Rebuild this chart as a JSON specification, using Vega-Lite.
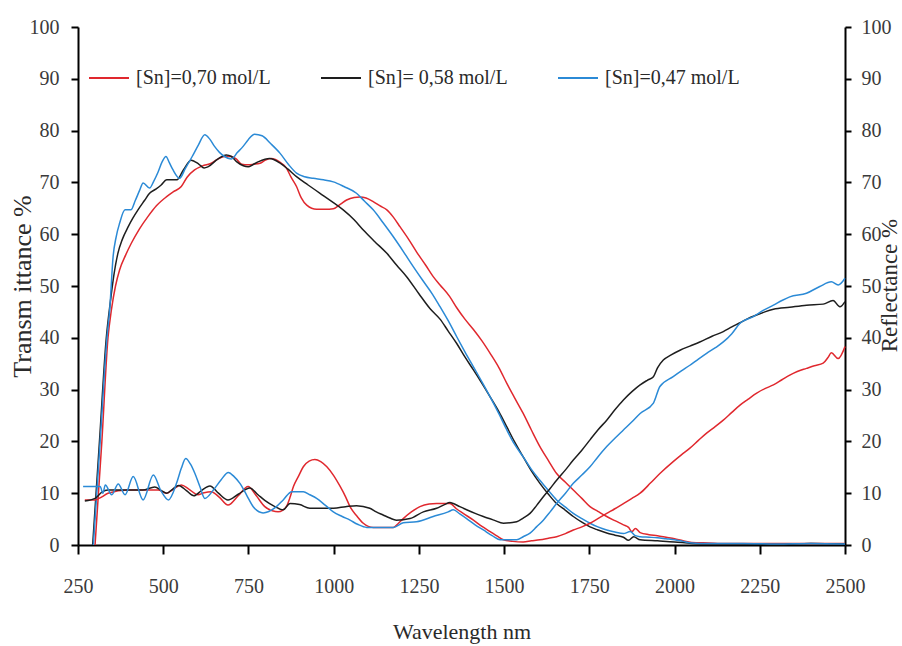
{
  "$schema": "https://vega.github.io/schema/vega-lite/v6.json",
  "width": 767,
  "height": 518,
  "autosize": {"type": "none"},
  "padding": {"left": 78, "top": 27, "right": 57, "bottom": 101},
  "background": "white",
  "config": {
    "view": {"stroke": null},
    "axis": {
      "grid": false,
      "domainColor": "#000",
      "domainWidth": 2,
      "tickColor": "#000",
      "tickWidth": 2,
      "labelFont": "Liberation Serif",
      "labelFontSize": 20,
      "labelColor": "#3a3a3a",
      "titleFont": "Liberation Serif",
      "titleFontSize": 22,
      "titleFontWeight": "normal",
      "titleColor": "#2a2a2a"
    },
    "legend": {
      "orient": "none",
      "legendX": 10,
      "legendY": 30,
      "direction": "horizontal",
      "symbolType": "stroke",
      "symbolSize": 1600,
      "symbolStrokeWidth": 2,
      "labelFont": "Liberation Serif",
      "labelFontSize": 20,
      "labelColor": "#2a2a2a",
      "labelOffset": 6,
      "columnPadding": 46
    }
  },
  "datasets": {
    "trans": [
      {"w":300,"v":0,"c":"[Sn]=0,70 mol/L"},{"w":320,"v":20,"c":"[Sn]=0,70 mol/L"},{"w":338,"v":40,"c":"[Sn]=0,70 mol/L"},{"w":348,"v":45.4,"c":"[Sn]=0,70 mol/L"},{"w":360,"v":50,"c":"[Sn]=0,70 mol/L"},{"w":372,"v":53.1,"c":"[Sn]=0,70 mol/L"},{"w":390,"v":56,"c":"[Sn]=0,70 mol/L"},{"w":406,"v":58.2,"c":"[Sn]=0,70 mol/L"},{"w":430,"v":61,"c":"[Sn]=0,70 mol/L"},{"w":455,"v":63.4,"c":"[Sn]=0,70 mol/L"},{"w":480,"v":65.5,"c":"[Sn]=0,70 mol/L"},{"w":509,"v":67.2,"c":"[Sn]=0,70 mol/L"},{"w":530,"v":68.2,"c":"[Sn]=0,70 mol/L"},{"w":553,"v":69.2,"c":"[Sn]=0,70 mol/L"},{"w":570,"v":71,"c":"[Sn]=0,70 mol/L"},{"w":592,"v":72.4,"c":"[Sn]=0,70 mol/L"},{"w":615,"v":73.2,"c":"[Sn]=0,70 mol/L"},{"w":641,"v":73.7,"c":"[Sn]=0,70 mol/L"},{"w":660,"v":74.5,"c":"[Sn]=0,70 mol/L"},{"w":680,"v":75,"c":"[Sn]=0,70 mol/L"},{"w":700,"v":75,"c":"[Sn]=0,70 mol/L"},{"w":715,"v":74.5,"c":"[Sn]=0,70 mol/L"},{"w":730,"v":73.5,"c":"[Sn]=0,70 mol/L"},{"w":749,"v":73.4,"c":"[Sn]=0,70 mol/L"},{"w":765,"v":73.5,"c":"[Sn]=0,70 mol/L"},{"w":784,"v":73.7,"c":"[Sn]=0,70 mol/L"},{"w":800,"v":74.3,"c":"[Sn]=0,70 mol/L"},{"w":817,"v":74.6,"c":"[Sn]=0,70 mol/L"},{"w":840,"v":74,"c":"[Sn]=0,70 mol/L"},{"w":862,"v":72.7,"c":"[Sn]=0,70 mol/L"},{"w":875,"v":71,"c":"[Sn]=0,70 mol/L"},{"w":891,"v":69.2,"c":"[Sn]=0,70 mol/L"},{"w":905,"v":67,"c":"[Sn]=0,70 mol/L"},{"w":921,"v":65.6,"c":"[Sn]=0,70 mol/L"},{"w":950,"v":64.8,"c":"[Sn]=0,70 mol/L"},{"w":975,"v":64.8,"c":"[Sn]=0,70 mol/L"},{"w":999,"v":64.9,"c":"[Sn]=0,70 mol/L"},{"w":1020,"v":65.8,"c":"[Sn]=0,70 mol/L"},{"w":1038,"v":66.6,"c":"[Sn]=0,70 mol/L"},{"w":1060,"v":67.1,"c":"[Sn]=0,70 mol/L"},{"w":1077,"v":67.2,"c":"[Sn]=0,70 mol/L"},{"w":1095,"v":67,"c":"[Sn]=0,70 mol/L"},{"w":1116,"v":66.3,"c":"[Sn]=0,70 mol/L"},{"w":1135,"v":65.5,"c":"[Sn]=0,70 mol/L"},{"w":1156,"v":64.7,"c":"[Sn]=0,70 mol/L"},{"w":1175,"v":63.3,"c":"[Sn]=0,70 mol/L"},{"w":1195,"v":61.4,"c":"[Sn]=0,70 mol/L"},{"w":1220,"v":59,"c":"[Sn]=0,70 mol/L"},{"w":1243,"v":56.6,"c":"[Sn]=0,70 mol/L"},{"w":1270,"v":54,"c":"[Sn]=0,70 mol/L"},{"w":1292,"v":51.8,"c":"[Sn]=0,70 mol/L"},{"w":1312,"v":50.2,"c":"[Sn]=0,70 mol/L"},{"w":1340,"v":48,"c":"[Sn]=0,70 mol/L"},{"w":1361,"v":45.8,"c":"[Sn]=0,70 mol/L"},{"w":1385,"v":43.6,"c":"[Sn]=0,70 mol/L"},{"w":1410,"v":41.6,"c":"[Sn]=0,70 mol/L"},{"w":1435,"v":39.4,"c":"[Sn]=0,70 mol/L"},{"w":1459,"v":37,"c":"[Sn]=0,70 mol/L"},{"w":1485,"v":34.2,"c":"[Sn]=0,70 mol/L"},{"w":1508,"v":31.2,"c":"[Sn]=0,70 mol/L"},{"w":1530,"v":28.5,"c":"[Sn]=0,70 mol/L"},{"w":1556,"v":25.4,"c":"[Sn]=0,70 mol/L"},{"w":1580,"v":22.2,"c":"[Sn]=0,70 mol/L"},{"w":1605,"v":19,"c":"[Sn]=0,70 mol/L"},{"w":1630,"v":16.3,"c":"[Sn]=0,70 mol/L"},{"w":1654,"v":13.8,"c":"[Sn]=0,70 mol/L"},{"w":1680,"v":12.1,"c":"[Sn]=0,70 mol/L"},{"w":1703,"v":10.6,"c":"[Sn]=0,70 mol/L"},{"w":1728,"v":9,"c":"[Sn]=0,70 mol/L"},{"w":1752,"v":7.4,"c":"[Sn]=0,70 mol/L"},{"w":1775,"v":6.5,"c":"[Sn]=0,70 mol/L"},{"w":1801,"v":5.5,"c":"[Sn]=0,70 mol/L"},{"w":1825,"v":4.7,"c":"[Sn]=0,70 mol/L"},{"w":1850,"v":3.9,"c":"[Sn]=0,70 mol/L"},{"w":1865,"v":3.4,"c":"[Sn]=0,70 mol/L"},{"w":1875,"v":2.6,"c":"[Sn]=0,70 mol/L"},{"w":1885,"v":3.2,"c":"[Sn]=0,70 mol/L"},{"w":1899,"v":2.4,"c":"[Sn]=0,70 mol/L"},{"w":1925,"v":2,"c":"[Sn]=0,70 mol/L"},{"w":1950,"v":1.8,"c":"[Sn]=0,70 mol/L"},{"w":1975,"v":1.5,"c":"[Sn]=0,70 mol/L"},{"w":2000,"v":1.2,"c":"[Sn]=0,70 mol/L"},{"w":2025,"v":0.8,"c":"[Sn]=0,70 mol/L"},{"w":2050,"v":0.5,"c":"[Sn]=0,70 mol/L"},{"w":2100,"v":0.4,"c":"[Sn]=0,70 mol/L"},{"w":2150,"v":0.3,"c":"[Sn]=0,70 mol/L"},{"w":2200,"v":0.3,"c":"[Sn]=0,70 mol/L"},{"w":2300,"v":0.3,"c":"[Sn]=0,70 mol/L"},{"w":2400,"v":0.3,"c":"[Sn]=0,70 mol/L"},{"w":2500,"v":0.3,"c":"[Sn]=0,70 mol/L"},

      {"w":293,"v":0,"c":"[Sn]= 0,58 mol/L"},{"w":313,"v":20,"c":"[Sn]= 0,58 mol/L"},{"w":333,"v":40,"c":"[Sn]= 0,58 mol/L"},{"w":345,"v":47,"c":"[Sn]= 0,58 mol/L"},{"w":355,"v":52,"c":"[Sn]= 0,58 mol/L"},{"w":367,"v":56.3,"c":"[Sn]= 0,58 mol/L"},{"w":380,"v":59,"c":"[Sn]= 0,58 mol/L"},{"w":397,"v":61.4,"c":"[Sn]= 0,58 mol/L"},{"w":410,"v":63,"c":"[Sn]= 0,58 mol/L"},{"w":426,"v":64.7,"c":"[Sn]= 0,58 mol/L"},{"w":445,"v":66.5,"c":"[Sn]= 0,58 mol/L"},{"w":460,"v":67.9,"c":"[Sn]= 0,58 mol/L"},{"w":478,"v":68.7,"c":"[Sn]= 0,58 mol/L"},{"w":494,"v":69.5,"c":"[Sn]= 0,58 mol/L"},{"w":510,"v":70.5,"c":"[Sn]= 0,58 mol/L"},{"w":540,"v":70.5,"c":"[Sn]= 0,58 mol/L"},{"w":560,"v":72.5,"c":"[Sn]= 0,58 mol/L"},{"w":582,"v":74.3,"c":"[Sn]= 0,58 mol/L"},{"w":605,"v":73.5,"c":"[Sn]= 0,58 mol/L"},{"w":620,"v":72.8,"c":"[Sn]= 0,58 mol/L"},{"w":631,"v":73,"c":"[Sn]= 0,58 mol/L"},{"w":660,"v":74.5,"c":"[Sn]= 0,58 mol/L"},{"w":685,"v":75.3,"c":"[Sn]= 0,58 mol/L"},{"w":700,"v":75,"c":"[Sn]= 0,58 mol/L"},{"w":715,"v":74,"c":"[Sn]= 0,58 mol/L"},{"w":735,"v":73.2,"c":"[Sn]= 0,58 mol/L"},{"w":749,"v":73,"c":"[Sn]= 0,58 mol/L"},{"w":765,"v":73.5,"c":"[Sn]= 0,58 mol/L"},{"w":780,"v":74,"c":"[Sn]= 0,58 mol/L"},{"w":812,"v":74.6,"c":"[Sn]= 0,58 mol/L"},{"w":843,"v":73.7,"c":"[Sn]= 0,58 mol/L"},{"w":865,"v":72.6,"c":"[Sn]= 0,58 mol/L"},{"w":891,"v":71.1,"c":"[Sn]= 0,58 mol/L"},{"w":925,"v":69.5,"c":"[Sn]= 0,58 mol/L"},{"w":960,"v":67.9,"c":"[Sn]= 0,58 mol/L"},{"w":995,"v":66.3,"c":"[Sn]= 0,58 mol/L"},{"w":1028,"v":64.7,"c":"[Sn]= 0,58 mol/L"},{"w":1060,"v":62.8,"c":"[Sn]= 0,58 mol/L"},{"w":1087,"v":60.8,"c":"[Sn]= 0,58 mol/L"},{"w":1120,"v":58.6,"c":"[Sn]= 0,58 mol/L"},{"w":1156,"v":56.3,"c":"[Sn]= 0,58 mol/L"},{"w":1185,"v":54,"c":"[Sn]= 0,58 mol/L"},{"w":1214,"v":51.8,"c":"[Sn]= 0,58 mol/L"},{"w":1250,"v":48.5,"c":"[Sn]= 0,58 mol/L"},{"w":1283,"v":45.6,"c":"[Sn]= 0,58 mol/L"},{"w":1312,"v":43.6,"c":"[Sn]= 0,58 mol/L"},{"w":1336,"v":41.3,"c":"[Sn]= 0,58 mol/L"},{"w":1361,"v":38.9,"c":"[Sn]= 0,58 mol/L"},{"w":1385,"v":36.3,"c":"[Sn]= 0,58 mol/L"},{"w":1410,"v":33.8,"c":"[Sn]= 0,58 mol/L"},{"w":1435,"v":31.2,"c":"[Sn]= 0,58 mol/L"},{"w":1459,"v":28.6,"c":"[Sn]= 0,58 mol/L"},{"w":1485,"v":25.7,"c":"[Sn]= 0,58 mol/L"},{"w":1508,"v":22.8,"c":"[Sn]= 0,58 mol/L"},{"w":1530,"v":20,"c":"[Sn]= 0,58 mol/L"},{"w":1556,"v":17,"c":"[Sn]= 0,58 mol/L"},{"w":1580,"v":14.3,"c":"[Sn]= 0,58 mol/L"},{"w":1605,"v":11.9,"c":"[Sn]= 0,58 mol/L"},{"w":1630,"v":9.8,"c":"[Sn]= 0,58 mol/L"},{"w":1654,"v":8,"c":"[Sn]= 0,58 mol/L"},{"w":1680,"v":6.7,"c":"[Sn]= 0,58 mol/L"},{"w":1703,"v":5.5,"c":"[Sn]= 0,58 mol/L"},{"w":1728,"v":4.4,"c":"[Sn]= 0,58 mol/L"},{"w":1752,"v":3.5,"c":"[Sn]= 0,58 mol/L"},{"w":1775,"v":2.9,"c":"[Sn]= 0,58 mol/L"},{"w":1801,"v":2.3,"c":"[Sn]= 0,58 mol/L"},{"w":1825,"v":1.9,"c":"[Sn]= 0,58 mol/L"},{"w":1850,"v":1.5,"c":"[Sn]= 0,58 mol/L"},{"w":1865,"v":0.9,"c":"[Sn]= 0,58 mol/L"},{"w":1880,"v":1.6,"c":"[Sn]= 0,58 mol/L"},{"w":1899,"v":1,"c":"[Sn]= 0,58 mol/L"},{"w":1950,"v":0.8,"c":"[Sn]= 0,58 mol/L"},{"w":2000,"v":0.6,"c":"[Sn]= 0,58 mol/L"},{"w":2050,"v":0.3,"c":"[Sn]= 0,58 mol/L"},{"w":2100,"v":0.2,"c":"[Sn]= 0,58 mol/L"},{"w":2200,"v":0.2,"c":"[Sn]= 0,58 mol/L"},{"w":2300,"v":0.1,"c":"[Sn]= 0,58 mol/L"},{"w":2400,"v":0.3,"c":"[Sn]= 0,58 mol/L"},{"w":2500,"v":0.2,"c":"[Sn]= 0,58 mol/L"},

      {"w":295,"v":0,"c":"[Sn]=0,47 mol/L"},{"w":315,"v":20,"c":"[Sn]=0,47 mol/L"},{"w":335,"v":40,"c":"[Sn]=0,47 mol/L"},{"w":343,"v":45.4,"c":"[Sn]=0,47 mol/L"},{"w":353,"v":55.7,"c":"[Sn]=0,47 mol/L"},{"w":362,"v":59.5,"c":"[Sn]=0,47 mol/L"},{"w":372,"v":62.1,"c":"[Sn]=0,47 mol/L"},{"w":388,"v":64.7,"c":"[Sn]=0,47 mol/L"},{"w":405,"v":64.7,"c":"[Sn]=0,47 mol/L"},{"w":418,"v":66.5,"c":"[Sn]=0,47 mol/L"},{"w":431,"v":68.5,"c":"[Sn]=0,47 mol/L"},{"w":441,"v":69.9,"c":"[Sn]=0,47 mol/L"},{"w":460,"v":68.9,"c":"[Sn]=0,47 mol/L"},{"w":472,"v":70.2,"c":"[Sn]=0,47 mol/L"},{"w":485,"v":72,"c":"[Sn]=0,47 mol/L"},{"w":497,"v":74,"c":"[Sn]=0,47 mol/L"},{"w":508,"v":75,"c":"[Sn]=0,47 mol/L"},{"w":518,"v":73.8,"c":"[Sn]=0,47 mol/L"},{"w":528,"v":72.5,"c":"[Sn]=0,47 mol/L"},{"w":548,"v":70.8,"c":"[Sn]=0,47 mol/L"},{"w":565,"v":72.7,"c":"[Sn]=0,47 mol/L"},{"w":585,"v":75,"c":"[Sn]=0,47 mol/L"},{"w":603,"v":77.2,"c":"[Sn]=0,47 mol/L"},{"w":622,"v":79.2,"c":"[Sn]=0,47 mol/L"},{"w":636,"v":78.4,"c":"[Sn]=0,47 mol/L"},{"w":650,"v":77,"c":"[Sn]=0,47 mol/L"},{"w":665,"v":75.8,"c":"[Sn]=0,47 mol/L"},{"w":680,"v":75,"c":"[Sn]=0,47 mol/L"},{"w":699,"v":74.5,"c":"[Sn]=0,47 mol/L"},{"w":718,"v":75.8,"c":"[Sn]=0,47 mol/L"},{"w":735,"v":77,"c":"[Sn]=0,47 mol/L"},{"w":750,"v":78.3,"c":"[Sn]=0,47 mol/L"},{"w":768,"v":79.3,"c":"[Sn]=0,47 mol/L"},{"w":790,"v":79,"c":"[Sn]=0,47 mol/L"},{"w":815,"v":77.5,"c":"[Sn]=0,47 mol/L"},{"w":843,"v":75.6,"c":"[Sn]=0,47 mol/L"},{"w":867,"v":73.5,"c":"[Sn]=0,47 mol/L"},{"w":891,"v":71.8,"c":"[Sn]=0,47 mol/L"},{"w":915,"v":71.1,"c":"[Sn]=0,47 mol/L"},{"w":940,"v":70.8,"c":"[Sn]=0,47 mol/L"},{"w":970,"v":70.5,"c":"[Sn]=0,47 mol/L"},{"w":999,"v":70.1,"c":"[Sn]=0,47 mol/L"},{"w":1030,"v":69.2,"c":"[Sn]=0,47 mol/L"},{"w":1067,"v":67.9,"c":"[Sn]=0,47 mol/L"},{"w":1090,"v":66.4,"c":"[Sn]=0,47 mol/L"},{"w":1116,"v":64.7,"c":"[Sn]=0,47 mol/L"},{"w":1145,"v":62.2,"c":"[Sn]=0,47 mol/L"},{"w":1175,"v":59.5,"c":"[Sn]=0,47 mol/L"},{"w":1205,"v":56.6,"c":"[Sn]=0,47 mol/L"},{"w":1234,"v":53.7,"c":"[Sn]=0,47 mol/L"},{"w":1260,"v":51.2,"c":"[Sn]=0,47 mol/L"},{"w":1290,"v":48.4,"c":"[Sn]=0,47 mol/L"},{"w":1312,"v":46,"c":"[Sn]=0,47 mol/L"},{"w":1336,"v":43.3,"c":"[Sn]=0,47 mol/L"},{"w":1361,"v":40.2,"c":"[Sn]=0,47 mol/L"},{"w":1385,"v":37.3,"c":"[Sn]=0,47 mol/L"},{"w":1410,"v":34.4,"c":"[Sn]=0,47 mol/L"},{"w":1435,"v":31.5,"c":"[Sn]=0,47 mol/L"},{"w":1459,"v":28.6,"c":"[Sn]=0,47 mol/L"},{"w":1485,"v":25.3,"c":"[Sn]=0,47 mol/L"},{"w":1508,"v":22.2,"c":"[Sn]=0,47 mol/L"},{"w":1530,"v":19.5,"c":"[Sn]=0,47 mol/L"},{"w":1556,"v":17,"c":"[Sn]=0,47 mol/L"},{"w":1580,"v":14.6,"c":"[Sn]=0,47 mol/L"},{"w":1605,"v":12.5,"c":"[Sn]=0,47 mol/L"},{"w":1630,"v":10.5,"c":"[Sn]=0,47 mol/L"},{"w":1654,"v":8.7,"c":"[Sn]=0,47 mol/L"},{"w":1680,"v":7.3,"c":"[Sn]=0,47 mol/L"},{"w":1703,"v":6.1,"c":"[Sn]=0,47 mol/L"},{"w":1728,"v":5.1,"c":"[Sn]=0,47 mol/L"},{"w":1752,"v":4.2,"c":"[Sn]=0,47 mol/L"},{"w":1775,"v":3.5,"c":"[Sn]=0,47 mol/L"},{"w":1801,"v":2.9,"c":"[Sn]=0,47 mol/L"},{"w":1825,"v":2.5,"c":"[Sn]=0,47 mol/L"},{"w":1850,"v":2.2,"c":"[Sn]=0,47 mol/L"},{"w":1870,"v":2.6,"c":"[Sn]=0,47 mol/L"},{"w":1885,"v":1.8,"c":"[Sn]=0,47 mol/L"},{"w":1899,"v":1.6,"c":"[Sn]=0,47 mol/L"},{"w":1925,"v":1.5,"c":"[Sn]=0,47 mol/L"},{"w":1950,"v":1.4,"c":"[Sn]=0,47 mol/L"},{"w":1975,"v":1.2,"c":"[Sn]=0,47 mol/L"},{"w":2000,"v":1,"c":"[Sn]=0,47 mol/L"},{"w":2025,"v":0.7,"c":"[Sn]=0,47 mol/L"},{"w":2050,"v":0.4,"c":"[Sn]=0,47 mol/L"},{"w":2100,"v":0.3,"c":"[Sn]=0,47 mol/L"},{"w":2200,"v":0.3,"c":"[Sn]=0,47 mol/L"},{"w":2300,"v":0.2,"c":"[Sn]=0,47 mol/L"},{"w":2400,"v":0.3,"c":"[Sn]=0,47 mol/L"},{"w":2500,"v":0.2,"c":"[Sn]=0,47 mol/L"}
    ],
    "refl": [
      {"w":270,"v":8.7,"c":"[Sn]=0,70 mol/L"},{"w":300,"v":8.7,"c":"[Sn]=0,70 mol/L"},{"w":320,"v":9.3,"c":"[Sn]=0,70 mol/L"},{"w":338,"v":10,"c":"[Sn]=0,70 mol/L"},{"w":397,"v":10.6,"c":"[Sn]=0,70 mol/L"},{"w":446,"v":10.6,"c":"[Sn]=0,70 mol/L"},{"w":485,"v":10.6,"c":"[Sn]=0,70 mol/L"},{"w":509,"v":10,"c":"[Sn]=0,70 mol/L"},{"w":530,"v":10.8,"c":"[Sn]=0,70 mol/L"},{"w":553,"v":11.6,"c":"[Sn]=0,70 mol/L"},{"w":575,"v":10.8,"c":"[Sn]=0,70 mol/L"},{"w":602,"v":9.7,"c":"[Sn]=0,70 mol/L"},{"w":620,"v":10.1,"c":"[Sn]=0,70 mol/L"},{"w":641,"v":10.3,"c":"[Sn]=0,70 mol/L"},{"w":665,"v":9.2,"c":"[Sn]=0,70 mol/L"},{"w":690,"v":7.7,"c":"[Sn]=0,70 mol/L"},{"w":720,"v":9.5,"c":"[Sn]=0,70 mol/L"},{"w":749,"v":11.3,"c":"[Sn]=0,70 mol/L"},{"w":772,"v":9.6,"c":"[Sn]=0,70 mol/L"},{"w":798,"v":7.4,"c":"[Sn]=0,70 mol/L"},{"w":820,"v":6.6,"c":"[Sn]=0,70 mol/L"},{"w":837,"v":6.4,"c":"[Sn]=0,70 mol/L"},{"w":850,"v":6.7,"c":"[Sn]=0,70 mol/L"},{"w":862,"v":7.5,"c":"[Sn]=0,70 mol/L"},{"w":872,"v":9.2,"c":"[Sn]=0,70 mol/L"},{"w":882,"v":11.3,"c":"[Sn]=0,70 mol/L"},{"w":897,"v":13.3,"c":"[Sn]=0,70 mol/L"},{"w":911,"v":15.1,"c":"[Sn]=0,70 mol/L"},{"w":928,"v":16.2,"c":"[Sn]=0,70 mol/L"},{"w":945,"v":16.5,"c":"[Sn]=0,70 mol/L"},{"w":962,"v":16.1,"c":"[Sn]=0,70 mol/L"},{"w":980,"v":15.1,"c":"[Sn]=0,70 mol/L"},{"w":1000,"v":13.4,"c":"[Sn]=0,70 mol/L"},{"w":1019,"v":11.3,"c":"[Sn]=0,70 mol/L"},{"w":1035,"v":9.3,"c":"[Sn]=0,70 mol/L"},{"w":1048,"v":7.4,"c":"[Sn]=0,70 mol/L"},{"w":1068,"v":5.6,"c":"[Sn]=0,70 mol/L"},{"w":1087,"v":4.2,"c":"[Sn]=0,70 mol/L"},{"w":1116,"v":3.4,"c":"[Sn]=0,70 mol/L"},{"w":1145,"v":3.4,"c":"[Sn]=0,70 mol/L"},{"w":1175,"v":3.4,"c":"[Sn]=0,70 mol/L"},{"w":1190,"v":4.2,"c":"[Sn]=0,70 mol/L"},{"w":1204,"v":5.1,"c":"[Sn]=0,70 mol/L"},{"w":1228,"v":6.4,"c":"[Sn]=0,70 mol/L"},{"w":1253,"v":7.4,"c":"[Sn]=0,70 mol/L"},{"w":1280,"v":7.9,"c":"[Sn]=0,70 mol/L"},{"w":1302,"v":8,"c":"[Sn]=0,70 mol/L"},{"w":1325,"v":8,"c":"[Sn]=0,70 mol/L"},{"w":1341,"v":8,"c":"[Sn]=0,70 mol/L"},{"w":1360,"v":7,"c":"[Sn]=0,70 mol/L"},{"w":1380,"v":6.1,"c":"[Sn]=0,70 mol/L"},{"w":1410,"v":4.8,"c":"[Sn]=0,70 mol/L"},{"w":1435,"v":3.6,"c":"[Sn]=0,70 mol/L"},{"w":1459,"v":2.6,"c":"[Sn]=0,70 mol/L"},{"w":1480,"v":1.7,"c":"[Sn]=0,70 mol/L"},{"w":1498,"v":1,"c":"[Sn]=0,70 mol/L"},{"w":1525,"v":0.7,"c":"[Sn]=0,70 mol/L"},{"w":1556,"v":0.6,"c":"[Sn]=0,70 mol/L"},{"w":1580,"v":0.8,"c":"[Sn]=0,70 mol/L"},{"w":1605,"v":1,"c":"[Sn]=0,70 mol/L"},{"w":1630,"v":1.3,"c":"[Sn]=0,70 mol/L"},{"w":1654,"v":1.6,"c":"[Sn]=0,70 mol/L"},{"w":1680,"v":2.2,"c":"[Sn]=0,70 mol/L"},{"w":1703,"v":2.9,"c":"[Sn]=0,70 mol/L"},{"w":1728,"v":3.5,"c":"[Sn]=0,70 mol/L"},{"w":1752,"v":4.2,"c":"[Sn]=0,70 mol/L"},{"w":1775,"v":5.1,"c":"[Sn]=0,70 mol/L"},{"w":1801,"v":6.1,"c":"[Sn]=0,70 mol/L"},{"w":1825,"v":7,"c":"[Sn]=0,70 mol/L"},{"w":1850,"v":8,"c":"[Sn]=0,70 mol/L"},{"w":1875,"v":9,"c":"[Sn]=0,70 mol/L"},{"w":1899,"v":10,"c":"[Sn]=0,70 mol/L"},{"w":1930,"v":12,"c":"[Sn]=0,70 mol/L"},{"w":1957,"v":13.8,"c":"[Sn]=0,70 mol/L"},{"w":1996,"v":16.1,"c":"[Sn]=0,70 mol/L"},{"w":2020,"v":17.4,"c":"[Sn]=0,70 mol/L"},{"w":2045,"v":18.7,"c":"[Sn]=0,70 mol/L"},{"w":2070,"v":20.2,"c":"[Sn]=0,70 mol/L"},{"w":2094,"v":21.6,"c":"[Sn]=0,70 mol/L"},{"w":2120,"v":22.9,"c":"[Sn]=0,70 mol/L"},{"w":2143,"v":24.1,"c":"[Sn]=0,70 mol/L"},{"w":2168,"v":25.6,"c":"[Sn]=0,70 mol/L"},{"w":2192,"v":27,"c":"[Sn]=0,70 mol/L"},{"w":2215,"v":28.1,"c":"[Sn]=0,70 mol/L"},{"w":2241,"v":29.3,"c":"[Sn]=0,70 mol/L"},{"w":2265,"v":30.2,"c":"[Sn]=0,70 mol/L"},{"w":2290,"v":30.9,"c":"[Sn]=0,70 mol/L"},{"w":2315,"v":31.9,"c":"[Sn]=0,70 mol/L"},{"w":2338,"v":32.8,"c":"[Sn]=0,70 mol/L"},{"w":2360,"v":33.5,"c":"[Sn]=0,70 mol/L"},{"w":2387,"v":34.1,"c":"[Sn]=0,70 mol/L"},{"w":2410,"v":34.6,"c":"[Sn]=0,70 mol/L"},{"w":2436,"v":35.1,"c":"[Sn]=0,70 mol/L"},{"w":2450,"v":36.2,"c":"[Sn]=0,70 mol/L"},{"w":2460,"v":37.1,"c":"[Sn]=0,70 mol/L"},{"w":2480,"v":36,"c":"[Sn]=0,70 mol/L"},{"w":2500,"v":38.3,"c":"[Sn]=0,70 mol/L"},

      {"w":270,"v":8.5,"c":"[Sn]= 0,58 mol/L"},{"w":300,"v":9,"c":"[Sn]= 0,58 mol/L"},{"w":320,"v":10.2,"c":"[Sn]= 0,58 mol/L"},{"w":338,"v":10.6,"c":"[Sn]= 0,58 mol/L"},{"w":400,"v":10.6,"c":"[Sn]= 0,58 mol/L"},{"w":440,"v":10.6,"c":"[Sn]= 0,58 mol/L"},{"w":475,"v":11.2,"c":"[Sn]= 0,58 mol/L"},{"w":495,"v":10.5,"c":"[Sn]= 0,58 mol/L"},{"w":510,"v":10,"c":"[Sn]= 0,58 mol/L"},{"w":528,"v":10.8,"c":"[Sn]= 0,58 mol/L"},{"w":545,"v":11.5,"c":"[Sn]= 0,58 mol/L"},{"w":568,"v":10.5,"c":"[Sn]= 0,58 mol/L"},{"w":590,"v":9.5,"c":"[Sn]= 0,58 mol/L"},{"w":612,"v":10.5,"c":"[Sn]= 0,58 mol/L"},{"w":637,"v":11.4,"c":"[Sn]= 0,58 mol/L"},{"w":662,"v":10,"c":"[Sn]= 0,58 mol/L"},{"w":690,"v":8.7,"c":"[Sn]= 0,58 mol/L"},{"w":720,"v":9.8,"c":"[Sn]= 0,58 mol/L"},{"w":754,"v":11,"c":"[Sn]= 0,58 mol/L"},{"w":778,"v":9.7,"c":"[Sn]= 0,58 mol/L"},{"w":800,"v":8.5,"c":"[Sn]= 0,58 mol/L"},{"w":825,"v":7.5,"c":"[Sn]= 0,58 mol/L"},{"w":852,"v":6.8,"c":"[Sn]= 0,58 mol/L"},{"w":872,"v":8,"c":"[Sn]= 0,58 mol/L"},{"w":900,"v":7.8,"c":"[Sn]= 0,58 mol/L"},{"w":930,"v":7.1,"c":"[Sn]= 0,58 mol/L"},{"w":1000,"v":7.1,"c":"[Sn]= 0,58 mol/L"},{"w":1035,"v":7.4,"c":"[Sn]= 0,58 mol/L"},{"w":1067,"v":7.6,"c":"[Sn]= 0,58 mol/L"},{"w":1106,"v":7.1,"c":"[Sn]= 0,58 mol/L"},{"w":1125,"v":6.4,"c":"[Sn]= 0,58 mol/L"},{"w":1145,"v":5.8,"c":"[Sn]= 0,58 mol/L"},{"w":1165,"v":5.2,"c":"[Sn]= 0,58 mol/L"},{"w":1184,"v":4.8,"c":"[Sn]= 0,58 mol/L"},{"w":1224,"v":5.1,"c":"[Sn]= 0,58 mol/L"},{"w":1263,"v":6.4,"c":"[Sn]= 0,58 mol/L"},{"w":1302,"v":7.1,"c":"[Sn]= 0,58 mol/L"},{"w":1325,"v":7.8,"c":"[Sn]= 0,58 mol/L"},{"w":1341,"v":8.2,"c":"[Sn]= 0,58 mol/L"},{"w":1351,"v":8,"c":"[Sn]= 0,58 mol/L"},{"w":1370,"v":7.4,"c":"[Sn]= 0,58 mol/L"},{"w":1390,"v":6.8,"c":"[Sn]= 0,58 mol/L"},{"w":1415,"v":6.1,"c":"[Sn]= 0,58 mol/L"},{"w":1439,"v":5.5,"c":"[Sn]= 0,58 mol/L"},{"w":1470,"v":4.8,"c":"[Sn]= 0,58 mol/L"},{"w":1498,"v":4.2,"c":"[Sn]= 0,58 mol/L"},{"w":1537,"v":4.5,"c":"[Sn]= 0,58 mol/L"},{"w":1556,"v":5.2,"c":"[Sn]= 0,58 mol/L"},{"w":1576,"v":6.1,"c":"[Sn]= 0,58 mol/L"},{"w":1595,"v":7.6,"c":"[Sn]= 0,58 mol/L"},{"w":1615,"v":9.3,"c":"[Sn]= 0,58 mol/L"},{"w":1635,"v":10.9,"c":"[Sn]= 0,58 mol/L"},{"w":1654,"v":12.5,"c":"[Sn]= 0,58 mol/L"},{"w":1680,"v":14.5,"c":"[Sn]= 0,58 mol/L"},{"w":1703,"v":16.4,"c":"[Sn]= 0,58 mol/L"},{"w":1728,"v":18.3,"c":"[Sn]= 0,58 mol/L"},{"w":1752,"v":20.3,"c":"[Sn]= 0,58 mol/L"},{"w":1775,"v":22.2,"c":"[Sn]= 0,58 mol/L"},{"w":1801,"v":24.1,"c":"[Sn]= 0,58 mol/L"},{"w":1825,"v":26.1,"c":"[Sn]= 0,58 mol/L"},{"w":1850,"v":28,"c":"[Sn]= 0,58 mol/L"},{"w":1875,"v":29.6,"c":"[Sn]= 0,58 mol/L"},{"w":1899,"v":30.9,"c":"[Sn]= 0,58 mol/L"},{"w":1920,"v":31.8,"c":"[Sn]= 0,58 mol/L"},{"w":1938,"v":32.5,"c":"[Sn]= 0,58 mol/L"},{"w":1950,"v":34.2,"c":"[Sn]= 0,58 mol/L"},{"w":1967,"v":35.7,"c":"[Sn]= 0,58 mol/L"},{"w":1990,"v":36.7,"c":"[Sn]= 0,58 mol/L"},{"w":2016,"v":37.6,"c":"[Sn]= 0,58 mol/L"},{"w":2045,"v":38.4,"c":"[Sn]= 0,58 mol/L"},{"w":2074,"v":39.2,"c":"[Sn]= 0,58 mol/L"},{"w":2110,"v":40.3,"c":"[Sn]= 0,58 mol/L"},{"w":2143,"v":41.2,"c":"[Sn]= 0,58 mol/L"},{"w":2168,"v":42.1,"c":"[Sn]= 0,58 mol/L"},{"w":2192,"v":42.9,"c":"[Sn]= 0,58 mol/L"},{"w":2215,"v":43.7,"c":"[Sn]= 0,58 mol/L"},{"w":2241,"v":44.4,"c":"[Sn]= 0,58 mol/L"},{"w":2265,"v":45,"c":"[Sn]= 0,58 mol/L"},{"w":2290,"v":45.5,"c":"[Sn]= 0,58 mol/L"},{"w":2338,"v":45.9,"c":"[Sn]= 0,58 mol/L"},{"w":2387,"v":46.3,"c":"[Sn]= 0,58 mol/L"},{"w":2436,"v":46.5,"c":"[Sn]= 0,58 mol/L"},{"w":2465,"v":47.2,"c":"[Sn]= 0,58 mol/L"},{"w":2485,"v":46,"c":"[Sn]= 0,58 mol/L"},{"w":2500,"v":47,"c":"[Sn]= 0,58 mol/L"},

      {"w":265,"v":11.3,"c":"[Sn]=0,47 mol/L"},{"w":315,"v":11.3,"c":"[Sn]=0,47 mol/L"},{"w":323,"v":10,"c":"[Sn]=0,47 mol/L"},{"w":330,"v":11.6,"c":"[Sn]=0,47 mol/L"},{"w":349,"v":9.7,"c":"[Sn]=0,47 mol/L"},{"w":368,"v":11.8,"c":"[Sn]=0,47 mol/L"},{"w":388,"v":9.7,"c":"[Sn]=0,47 mol/L"},{"w":412,"v":13.2,"c":"[Sn]=0,47 mol/L"},{"w":441,"v":8.7,"c":"[Sn]=0,47 mol/L"},{"w":471,"v":13.5,"c":"[Sn]=0,47 mol/L"},{"w":493,"v":10.5,"c":"[Sn]=0,47 mol/L"},{"w":515,"v":8.7,"c":"[Sn]=0,47 mol/L"},{"w":539,"v":11.9,"c":"[Sn]=0,47 mol/L"},{"w":553,"v":14.8,"c":"[Sn]=0,47 mol/L"},{"w":566,"v":16.7,"c":"[Sn]=0,47 mol/L"},{"w":580,"v":15.6,"c":"[Sn]=0,47 mol/L"},{"w":593,"v":13.8,"c":"[Sn]=0,47 mol/L"},{"w":608,"v":11.2,"c":"[Sn]=0,47 mol/L"},{"w":622,"v":9,"c":"[Sn]=0,47 mol/L"},{"w":647,"v":10.6,"c":"[Sn]=0,47 mol/L"},{"w":670,"v":12.6,"c":"[Sn]=0,47 mol/L"},{"w":691,"v":14,"c":"[Sn]=0,47 mol/L"},{"w":708,"v":13.2,"c":"[Sn]=0,47 mol/L"},{"w":725,"v":11.9,"c":"[Sn]=0,47 mol/L"},{"w":745,"v":9.6,"c":"[Sn]=0,47 mol/L"},{"w":764,"v":7.4,"c":"[Sn]=0,47 mol/L"},{"w":793,"v":6.2,"c":"[Sn]=0,47 mol/L"},{"w":832,"v":7.4,"c":"[Sn]=0,47 mol/L"},{"w":852,"v":8.7,"c":"[Sn]=0,47 mol/L"},{"w":877,"v":10.3,"c":"[Sn]=0,47 mol/L"},{"w":911,"v":10.3,"c":"[Sn]=0,47 mol/L"},{"w":930,"v":9.7,"c":"[Sn]=0,47 mol/L"},{"w":950,"v":9,"c":"[Sn]=0,47 mol/L"},{"w":975,"v":7.7,"c":"[Sn]=0,47 mol/L"},{"w":999,"v":6.4,"c":"[Sn]=0,47 mol/L"},{"w":1025,"v":5.5,"c":"[Sn]=0,47 mol/L"},{"w":1048,"v":4.8,"c":"[Sn]=0,47 mol/L"},{"w":1070,"v":4,"c":"[Sn]=0,47 mol/L"},{"w":1097,"v":3.4,"c":"[Sn]=0,47 mol/L"},{"w":1175,"v":3.4,"c":"[Sn]=0,47 mol/L"},{"w":1204,"v":4.3,"c":"[Sn]=0,47 mol/L"},{"w":1243,"v":4.5,"c":"[Sn]=0,47 mol/L"},{"w":1292,"v":5.5,"c":"[Sn]=0,47 mol/L"},{"w":1336,"v":6.4,"c":"[Sn]=0,47 mol/L"},{"w":1351,"v":6.8,"c":"[Sn]=0,47 mol/L"},{"w":1370,"v":6,"c":"[Sn]=0,47 mol/L"},{"w":1390,"v":5.1,"c":"[Sn]=0,47 mol/L"},{"w":1415,"v":3.9,"c":"[Sn]=0,47 mol/L"},{"w":1439,"v":2.9,"c":"[Sn]=0,47 mol/L"},{"w":1465,"v":1.8,"c":"[Sn]=0,47 mol/L"},{"w":1488,"v":1,"c":"[Sn]=0,47 mol/L"},{"w":1537,"v":1,"c":"[Sn]=0,47 mol/L"},{"w":1556,"v":1.6,"c":"[Sn]=0,47 mol/L"},{"w":1576,"v":2.3,"c":"[Sn]=0,47 mol/L"},{"w":1595,"v":3.5,"c":"[Sn]=0,47 mol/L"},{"w":1615,"v":4.8,"c":"[Sn]=0,47 mol/L"},{"w":1635,"v":6.4,"c":"[Sn]=0,47 mol/L"},{"w":1654,"v":8,"c":"[Sn]=0,47 mol/L"},{"w":1680,"v":10,"c":"[Sn]=0,47 mol/L"},{"w":1703,"v":11.9,"c":"[Sn]=0,47 mol/L"},{"w":1728,"v":13.5,"c":"[Sn]=0,47 mol/L"},{"w":1752,"v":15.1,"c":"[Sn]=0,47 mol/L"},{"w":1775,"v":17,"c":"[Sn]=0,47 mol/L"},{"w":1801,"v":19,"c":"[Sn]=0,47 mol/L"},{"w":1825,"v":20.6,"c":"[Sn]=0,47 mol/L"},{"w":1850,"v":22.2,"c":"[Sn]=0,47 mol/L"},{"w":1875,"v":23.8,"c":"[Sn]=0,47 mol/L"},{"w":1899,"v":25.4,"c":"[Sn]=0,47 mol/L"},{"w":1938,"v":27.4,"c":"[Sn]=0,47 mol/L"},{"w":1957,"v":30.6,"c":"[Sn]=0,47 mol/L"},{"w":1996,"v":32.5,"c":"[Sn]=0,47 mol/L"},{"w":2020,"v":33.6,"c":"[Sn]=0,47 mol/L"},{"w":2045,"v":34.7,"c":"[Sn]=0,47 mol/L"},{"w":2070,"v":35.9,"c":"[Sn]=0,47 mol/L"},{"w":2094,"v":37,"c":"[Sn]=0,47 mol/L"},{"w":2120,"v":38.1,"c":"[Sn]=0,47 mol/L"},{"w":2143,"v":39.2,"c":"[Sn]=0,47 mol/L"},{"w":2168,"v":40.8,"c":"[Sn]=0,47 mol/L"},{"w":2192,"v":42.8,"c":"[Sn]=0,47 mol/L"},{"w":2231,"v":44.1,"c":"[Sn]=0,47 mol/L"},{"w":2260,"v":45.3,"c":"[Sn]=0,47 mol/L"},{"w":2290,"v":46.3,"c":"[Sn]=0,47 mol/L"},{"w":2315,"v":47.2,"c":"[Sn]=0,47 mol/L"},{"w":2338,"v":47.9,"c":"[Sn]=0,47 mol/L"},{"w":2387,"v":48.6,"c":"[Sn]=0,47 mol/L"},{"w":2426,"v":49.9,"c":"[Sn]=0,47 mol/L"},{"w":2460,"v":50.8,"c":"[Sn]=0,47 mol/L"},{"w":2480,"v":50.2,"c":"[Sn]=0,47 mol/L"},{"w":2500,"v":51.5,"c":"[Sn]=0,47 mol/L"}
    ]
  },
  "encoding": {
    "x": {
      "field": "w",
      "type": "quantitative",
      "scale": {"domain": [250, 2500], "nice": false, "zero": false},
      "axis": {
        "title": "Wavelength nm",
        "format": "d",
        "values": [250, 500, 750, 1000, 1250, 1500, 1750, 2000, 2250, 2500],
        "tickSize": 9,
        "labelPadding": 22,
        "titlePadding": 25,
        "labelFlush": false
      }
    },
    "color": {
      "field": "c",
      "type": "nominal",
      "scale": {
        "domain": ["[Sn]=0,70 mol/L", "[Sn]= 0,58 mol/L", "[Sn]=0,47 mol/L"],
        "range": ["#e0282e", "#1e1e1e", "#2b8ad6"]
      },
      "legend": {"title": null}
    }
  },
  "layer": [
    {
      "data": {"name": "trans"},
      "mark": {"type": "line", "strokeWidth": 1.5, "interpolate": "monotone"},
      "encoding": {
        "y": {
          "field": "v",
          "type": "quantitative",
          "scale": {"domain": [0, 100], "nice": false},
          "axis": {
            "title": "Transm ittance %",
            "orient": "left",
            "values": [0, 10, 20, 30, 40, 50, 60, 70, 80, 90, 100],
            "tickSize": 7,
            "labelPadding": 12,
            "titleFontSize": 26,
            "titlePadding": -6
          }
        }
      }
    },
    {
      "data": {"name": "refl"},
      "mark": {"type": "line", "strokeWidth": 1.5, "interpolate": "monotone"},
      "encoding": {
        "y": {
          "field": "v",
          "type": "quantitative",
          "scale": {"domain": [0, 100], "nice": false},
          "axis": {
            "title": "Reflectance %",
            "orient": "right",
            "values": [0, 10, 20, 30, 40, 50, 60, 70, 80, 90, 100],
            "tickSize": 6,
            "labelPadding": 10,
            "titleFontSize": 23,
            "titleAngle": 270,
            "titleX": 44,
            "titleY": 258,
            "titleAlign": "center",
            "titleBaseline": "middle"
          }
        }
      }
    }
  ],
  "resolve": {"scale": {"y": "independent"}}
}
